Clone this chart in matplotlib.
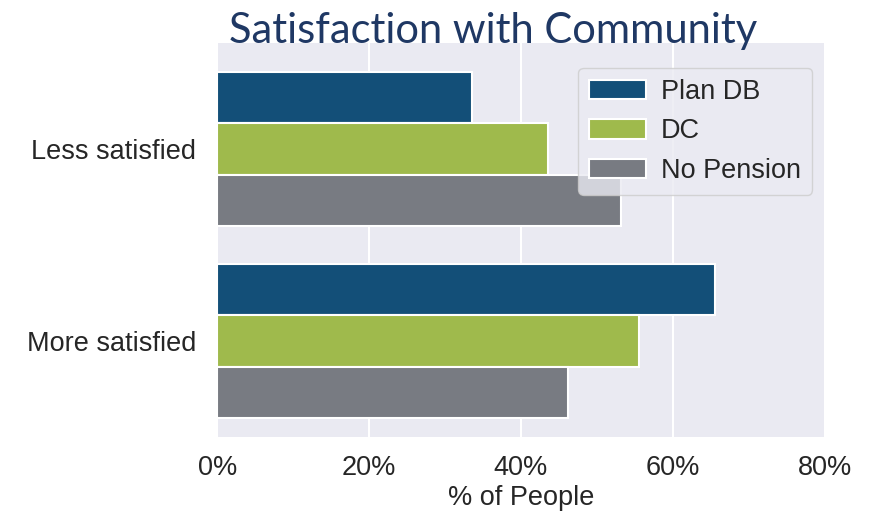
import numpy as np
import matplotlib.pyplot as plt
from matplotlib.ticker import PercentFormatter

# Datos
categories = ["Less satisfied", "More satisfied"]
series = ["Plan DB", "DC", "No Pension"]
plan_db = [33.5, 65.6]
dc = [43.6, 55.6]
no_pension = [53.2, 46.2]
colors = ["#134f78", "#9fba4c", "#787b82"]

values = [plan_db, dc, no_pension]

fig = plt.figure(figsize=(8.69, 5.21), dpi=100)
ax = fig.add_axes([0.25, 0.161, 0.699, 0.756])
ax.set_facecolor("#eaeaf2")
for s in ax.spines.values():
    s.set_visible(False)

y = np.arange(len(categories))
h = 0.8 / len(series)
for i, (name, vals) in enumerate(zip(series, values)):
    ax.barh(y + (i - 1) * h, vals, height=h, color=colors[i],
            edgecolor="white", linewidth=1.5, label=name, zorder=2)

ax.set_xlim(0, 80)
ax.set_ylim(1.5, -0.55)
ax.set_xticks([0, 20, 40, 60, 80])
ax.xaxis.set_major_formatter(PercentFormatter(decimals=0))
ax.set_yticks(y)
ax.set_yticklabels(categories)
ax.grid(axis="x", color="white", linewidth=1.5, zorder=0)
ax.set_axisbelow(True)
ax.tick_params(length=0, labelsize=19.5, labelcolor="#262626")
ax.tick_params(axis="x", pad=13)
ax.tick_params(axis="y", pad=15)
for t in ax.get_xticklabels() + ax.get_yticklabels():
    t.set_family("Liberation Sans")

ax.set_xlabel("% of People", fontsize=19.5, color="#262626",
              family="Liberation Sans", labelpad=3)

leg = ax.legend(loc="upper right", bbox_to_anchor=(0.979, 0.937),
                borderaxespad=0,
                prop={"family": "Liberation Sans", "size": 19.5},
                frameon=True, fancybox=True, framealpha=0.8,
                handlelength=2.1, handleheight=0.75, borderpad=0.4,
                labelspacing=0.5, handletextpad=0.55)
leg.get_frame().set_facecolor("#eaeaf2")
leg.get_frame().set_edgecolor("#cccccc")
for t in leg.get_texts():
    t.set_color("#262626")

fig.text(0.567, 0.94, "Satisfaction with Community", ha="center", va="center",
         fontsize=30, color="#1f3864", family="Lato")

fig.savefig("out.png", dpi=100)
